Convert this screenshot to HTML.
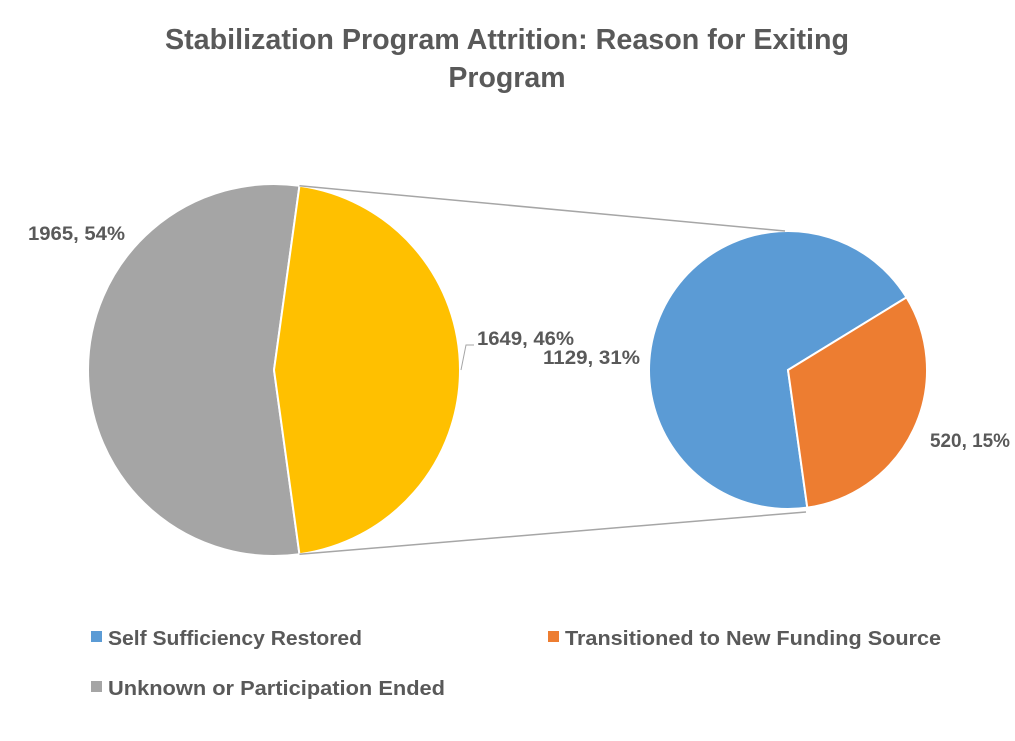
<!DOCTYPE html>
<html><head><meta charset="utf-8"><style>
body{margin:0;background:#fff;}
svg text{font-family:"Liberation Sans",Arial,sans-serif;font-weight:bold;fill:#595959;}
</style></head><body>
<svg id="chart" width="1015" height="736" viewBox="0 0 1015 736" xmlns="http://www.w3.org/2000/svg">
<text x="507" y="49" font-size="28.5" text-anchor="middle" textLength="684" lengthAdjust="spacingAndGlyphs">Stabilization Program Attrition: Reason for Exiting</text>
<text x="507" y="87" font-size="28.5" text-anchor="middle">Program</text>
<g id="marks"></g>
<g>
<rect x="91" y="631" width="11" height="11" fill="#5B9BD5"/>
<text x="108" y="645" font-size="20.5" textLength="254" lengthAdjust="spacingAndGlyphs">Self Sufficiency Restored</text>
<rect x="548" y="631" width="11" height="11" fill="#ED7D31"/>
<text x="565" y="645" font-size="20.5" textLength="376" lengthAdjust="spacingAndGlyphs">Transitioned to New Funding Source</text>
<rect x="91" y="681" width="11" height="11" fill="#A5A5A5"/>
<text x="108" y="695" font-size="20.5" textLength="337" lengthAdjust="spacingAndGlyphs">Unknown or Participation Ended</text>
</g>
</svg>
<script>
const mainCategories = ["Unknown or Participation Ended", "Other"];
const mainValues = [1965, 1649];
const mainPctLabels = ["54%", "46%"];
const subCategories = ["Self Sufficiency Restored", "Transitioned to New Funding Source"];
const subValues = [1129, 520];
const subPctLabels = ["31%", "15%"];
const mainColors = ["#A5A5A5", "#FFC000"];
const subColors = ["#5B9BD5", "#ED7D31"];

const NS = "http://www.w3.org/2000/svg";
const g = document.getElementById("marks");
function pt(cx, cy, r, deg){const a = deg*Math.PI/180;return [cx + r*Math.sin(a), cy - r*Math.cos(a)];}
function arc(cx, cy, r, a0, a1){
  const p0 = pt(cx,cy,r,a0), p1 = pt(cx,cy,r,a1);
  const large = (a1-a0) > 180 ? 1 : 0;
  return `M${cx},${cy} L${p0[0]},${p0[1]} A${r},${r} 0 ${large} 1 ${p1[0]},${p1[1]} Z`;
}
function mk(tag, attrs){const e = document.createElementNS(NS, tag);for(const k in attrs) e.setAttribute(k, attrs[k]);return e;}

const total = mainValues.reduce((a,b)=>a+b,0);
const mcx = 274, mcy = 370, mr = 186;
const otherSpan = mainValues[1]/total*360;
const oStart = 90 - otherSpan/2, oEnd = 90 + otherSpan/2;
const p1 = mk("path",{d:arc(mcx,mcy,mr,oEnd,oStart+360),fill:mainColors[0],stroke:"#fff","stroke-width":2});


g.appendChild(p1);
const p2 = mk("path",{d:arc(mcx,mcy,mr,oStart,oEnd),fill:mainColors[1],stroke:"#fff","stroke-width":2});


g.appendChild(p2);

const subTotal = subValues.reduce((a,b)=>a+b,0);
const scx = 788, scy = 370, sr = 139;
const orSpan = subValues[1]/subTotal*360;
const orStart = 58.5, orEnd = orStart + orSpan;
const s1 = mk("path",{d:arc(scx,scy,sr,orEnd,orStart+360),fill:subColors[0],stroke:"#fff","stroke-width":2});


g.appendChild(s1);
const s2 = mk("path",{d:arc(scx,scy,sr,orStart,orEnd),fill:subColors[1],stroke:"#fff","stroke-width":2});


g.appendChild(s2);

const a = pt(mcx,mcy,mr,oStart), b = pt(mcx,mcy,mr,oEnd);
const c = [785,231], d = [806,512];
const l1 = mk("line",{x1:a[0],y1:a[1],x2:c[0],y2:c[1],stroke:"#A6A6A6","stroke-width":1.5});


g.appendChild(l1);
const l2 = mk("line",{x1:b[0],y1:b[1],x2:d[0],y2:d[1],stroke:"#A6A6A6","stroke-width":1.5});


g.appendChild(l2);

function label(x,y,txt,name){
  const t = mk("text",{x:x,y:y,"font-size":19,textLength:97,lengthAdjust:"spacingAndGlyphs"});
  t.textContent = txt;
  
  
  g.appendChild(t);
  return t;
}
label(28,240,mainValues[0]+", "+mainPctLabels[0],"label-unknown");
label(477,345,mainValues[1]+", "+mainPctLabels[1],"label-other");
label(543,364,subValues[0]+", "+subPctLabels[0],"label-self-sufficiency");
label(930,447,subValues[1]+", "+subPctLabels[1],"label-transitioned").setAttribute("textLength", 80);
const ll = mk("polyline",{points:"461,370 466,345 474,345",fill:"none",stroke:"#A6A6A6","stroke-width":1});


g.appendChild(ll);
</script>
</body></html>
